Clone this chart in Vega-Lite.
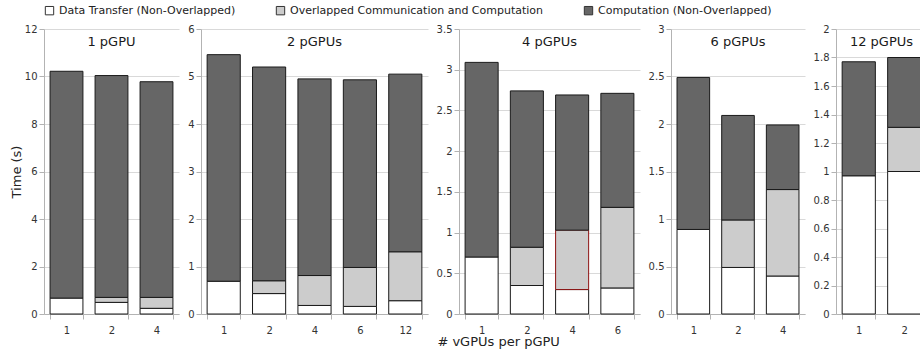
{
  "$schema": "https://vega.github.io/schema/vega-lite/v6.json",
  "background": "white",
  "padding": {"left": 10, "top": 5, "right": 0, "bottom": 0},
  "datasets": {
    "d": [
      {"pgpu": "1 pGPU", "vgpu": 1, "series": "Data Transfer (Non-Overlapped)", "seg": 1, "time": 0.67},
      {"pgpu": "1 pGPU", "vgpu": 1, "series": "Computation (Non-Overlapped)", "seg": 3, "time": 9.55},
      {"pgpu": "1 pGPU", "vgpu": 2, "series": "Data Transfer (Non-Overlapped)", "seg": 1, "time": 0.49},
      {"pgpu": "1 pGPU", "vgpu": 2, "series": "Overlapped Communication and Computation", "seg": 2, "time": 0.21},
      {"pgpu": "1 pGPU", "vgpu": 2, "series": "Computation (Non-Overlapped)", "seg": 3, "time": 9.34},
      {"pgpu": "1 pGPU", "vgpu": 4, "series": "Data Transfer (Non-Overlapped)", "seg": 1, "time": 0.24},
      {"pgpu": "1 pGPU", "vgpu": 4, "series": "Overlapped Communication and Computation", "seg": 2, "time": 0.46},
      {"pgpu": "1 pGPU", "vgpu": 4, "series": "Computation (Non-Overlapped)", "seg": 3, "time": 9.08},

      {"pgpu": "2 pGPUs", "vgpu": 1, "series": "Data Transfer (Non-Overlapped)", "seg": 1, "time": 0.69},
      {"pgpu": "2 pGPUs", "vgpu": 1, "series": "Computation (Non-Overlapped)", "seg": 3, "time": 4.77},
      {"pgpu": "2 pGPUs", "vgpu": 2, "series": "Data Transfer (Non-Overlapped)", "seg": 1, "time": 0.43},
      {"pgpu": "2 pGPUs", "vgpu": 2, "series": "Overlapped Communication and Computation", "seg": 2, "time": 0.27},
      {"pgpu": "2 pGPUs", "vgpu": 2, "series": "Computation (Non-Overlapped)", "seg": 3, "time": 4.50},
      {"pgpu": "2 pGPUs", "vgpu": 4, "series": "Data Transfer (Non-Overlapped)", "seg": 1, "time": 0.18},
      {"pgpu": "2 pGPUs", "vgpu": 4, "series": "Overlapped Communication and Computation", "seg": 2, "time": 0.63},
      {"pgpu": "2 pGPUs", "vgpu": 4, "series": "Computation (Non-Overlapped)", "seg": 3, "time": 4.14},
      {"pgpu": "2 pGPUs", "vgpu": 6, "series": "Data Transfer (Non-Overlapped)", "seg": 1, "time": 0.16},
      {"pgpu": "2 pGPUs", "vgpu": 6, "series": "Overlapped Communication and Computation", "seg": 2, "time": 0.82},
      {"pgpu": "2 pGPUs", "vgpu": 6, "series": "Computation (Non-Overlapped)", "seg": 3, "time": 3.95},
      {"pgpu": "2 pGPUs", "vgpu": 12, "series": "Data Transfer (Non-Overlapped)", "seg": 1, "time": 0.28},
      {"pgpu": "2 pGPUs", "vgpu": 12, "series": "Overlapped Communication and Computation", "seg": 2, "time": 1.03},
      {"pgpu": "2 pGPUs", "vgpu": 12, "series": "Computation (Non-Overlapped)", "seg": 3, "time": 3.74},

      {"pgpu": "4 pGPUs", "vgpu": 1, "series": "Data Transfer (Non-Overlapped)", "seg": 1, "time": 0.70},
      {"pgpu": "4 pGPUs", "vgpu": 1, "series": "Computation (Non-Overlapped)", "seg": 3, "time": 2.39},
      {"pgpu": "4 pGPUs", "vgpu": 2, "series": "Data Transfer (Non-Overlapped)", "seg": 1, "time": 0.35},
      {"pgpu": "4 pGPUs", "vgpu": 2, "series": "Overlapped Communication and Computation", "seg": 2, "time": 0.47},
      {"pgpu": "4 pGPUs", "vgpu": 2, "series": "Computation (Non-Overlapped)", "seg": 3, "time": 1.92},
      {"pgpu": "4 pGPUs", "vgpu": 4, "series": "Data Transfer (Non-Overlapped)", "seg": 1, "time": 0.30},
      {"pgpu": "4 pGPUs", "vgpu": 4, "series": "Overlapped Communication and Computation", "seg": 2, "time": 0.73},
      {"pgpu": "4 pGPUs", "vgpu": 4, "series": "Computation (Non-Overlapped)", "seg": 3, "time": 1.66},
      {"pgpu": "4 pGPUs", "vgpu": 6, "series": "Data Transfer (Non-Overlapped)", "seg": 1, "time": 0.32},
      {"pgpu": "4 pGPUs", "vgpu": 6, "series": "Overlapped Communication and Computation", "seg": 2, "time": 0.99},
      {"pgpu": "4 pGPUs", "vgpu": 6, "series": "Computation (Non-Overlapped)", "seg": 3, "time": 1.40},

      {"pgpu": "6 pGPUs", "vgpu": 1, "series": "Data Transfer (Non-Overlapped)", "seg": 1, "time": 0.89},
      {"pgpu": "6 pGPUs", "vgpu": 1, "series": "Computation (Non-Overlapped)", "seg": 3, "time": 1.60},
      {"pgpu": "6 pGPUs", "vgpu": 2, "series": "Data Transfer (Non-Overlapped)", "seg": 1, "time": 0.49},
      {"pgpu": "6 pGPUs", "vgpu": 2, "series": "Overlapped Communication and Computation", "seg": 2, "time": 0.50},
      {"pgpu": "6 pGPUs", "vgpu": 2, "series": "Computation (Non-Overlapped)", "seg": 3, "time": 1.10},
      {"pgpu": "6 pGPUs", "vgpu": 4, "series": "Data Transfer (Non-Overlapped)", "seg": 1, "time": 0.40},
      {"pgpu": "6 pGPUs", "vgpu": 4, "series": "Overlapped Communication and Computation", "seg": 2, "time": 0.91},
      {"pgpu": "6 pGPUs", "vgpu": 4, "series": "Computation (Non-Overlapped)", "seg": 3, "time": 0.68},

      {"pgpu": "12 pGPUs", "vgpu": 1, "series": "Data Transfer (Non-Overlapped)", "seg": 1, "time": 0.97},
      {"pgpu": "12 pGPUs", "vgpu": 1, "series": "Computation (Non-Overlapped)", "seg": 3, "time": 0.80},
      {"pgpu": "12 pGPUs", "vgpu": 2, "series": "Data Transfer (Non-Overlapped)", "seg": 1, "time": 1.00},
      {"pgpu": "12 pGPUs", "vgpu": 2, "series": "Overlapped Communication and Computation", "seg": 2, "time": 0.31},
      {"pgpu": "12 pGPUs", "vgpu": 2, "series": "Computation (Non-Overlapped)", "seg": 3, "time": 0.49}
    ]
  },
  "title": {"text": "# vGPUs per pGPU", "orient": "bottom", "anchor": "middle", "fontSize": 13, "fontWeight": "normal", "color": "#222222", "offset": 1, "dx": 30},
  "spacing": 8,
  "resolve": {"scale": {"x": "independent", "y": "independent"}},
  "hconcat": [
    {
      "width": 135, "height": 285,
      "title": {"text": "1 pGPU"},
      "data": {"name": "d"},
      "transform": [{"filter": "datum.pgpu === '1 pGPU'"}],
      "mark": {"type": "bar", "strokeWidth": 1},
      "encoding": {
        "x": {"field": "vgpu", "type": "ordinal", "title": null, "scale": {"paddingInner": 0.27, "paddingOuter": 0.135}},
        "y": {"field": "time", "type": "quantitative", "stack": "zero", "title": "Time (s)", "scale": {"domain": [0, 12], "nice": false}, "axis": {"values": [0, 2, 4, 6, 8, 10, 12], "format": "~g"}},
        "color": {"field": "series", "type": "nominal", "scale": {"domain": ["Data Transfer (Non-Overlapped)", "Overlapped Communication and Computation", "Computation (Non-Overlapped)"], "range": ["#ffffff", "#cccccc", "#666666"]}, "title": null},
        "order": {"field": "seg", "type": "quantitative", "sort": "ascending"},
        "stroke": {"value": "#1a1a1a"}
      }
    },
    {
      "width": 227, "height": 285,
      "title": {"text": "2 pGPUs"},
      "data": {"name": "d"},
      "transform": [{"filter": "datum.pgpu === '2 pGPUs'"}],
      "mark": {"type": "bar", "strokeWidth": 1},
      "encoding": {
        "x": {"field": "vgpu", "type": "ordinal", "title": null, "scale": {"paddingInner": 0.27, "paddingOuter": 0.135}},
        "y": {"field": "time", "type": "quantitative", "stack": "zero", "title": null, "scale": {"domain": [0, 6], "nice": false}, "axis": {"values": [0, 1, 2, 3, 4, 5, 6], "format": "~g"}},
        "color": {"field": "series", "type": "nominal", "scale": {"domain": ["Data Transfer (Non-Overlapped)", "Overlapped Communication and Computation", "Computation (Non-Overlapped)"], "range": ["#ffffff", "#cccccc", "#666666"]}, "title": null},
        "order": {"field": "seg", "type": "quantitative", "sort": "ascending"},
        "stroke": {"value": "#1a1a1a"}
      }
    },
    {
      "width": 181, "height": 285,
      "title": {"text": "4 pGPUs"},
      "data": {"name": "d"},
      "transform": [{"filter": "datum.pgpu === '4 pGPUs'"}],
      "mark": {"type": "bar", "strokeWidth": 1},
      "encoding": {
        "x": {"field": "vgpu", "type": "ordinal", "title": null, "scale": {"paddingInner": 0.27, "paddingOuter": 0.135}},
        "y": {"field": "time", "type": "quantitative", "stack": "zero", "title": null, "scale": {"domain": [0, 3.5], "nice": false}, "axis": {"values": [0, 0.5, 1, 1.5, 2, 2.5, 3, 3.5], "format": "~g"}},
        "color": {"field": "series", "type": "nominal", "scale": {"domain": ["Data Transfer (Non-Overlapped)", "Overlapped Communication and Computation", "Computation (Non-Overlapped)"], "range": ["#ffffff", "#cccccc", "#666666"]}, "title": null},
        "order": {"field": "seg", "type": "quantitative", "sort": "ascending"},
        "stroke": {"condition": {"test": "datum.vgpu === 4 && datum.seg === 2", "value": "#8b1010"}, "value": "#1a1a1a"}
      }
    },
    {
      "width": 134, "height": 285,
      "title": {"text": "6 pGPUs"},
      "data": {"name": "d"},
      "transform": [{"filter": "datum.pgpu === '6 pGPUs'"}],
      "mark": {"type": "bar", "strokeWidth": 1},
      "encoding": {
        "x": {"field": "vgpu", "type": "ordinal", "title": null, "scale": {"paddingInner": 0.27, "paddingOuter": 0.135}},
        "y": {"field": "time", "type": "quantitative", "stack": "zero", "title": null, "scale": {"domain": [0, 3], "nice": false}, "axis": {"values": [0, 0.5, 1, 1.5, 2, 2.5, 3], "format": "~g"}},
        "color": {"field": "series", "type": "nominal", "scale": {"domain": ["Data Transfer (Non-Overlapped)", "Overlapped Communication and Computation", "Computation (Non-Overlapped)"], "range": ["#ffffff", "#cccccc", "#666666"]}, "title": null},
        "order": {"field": "seg", "type": "quantitative", "sort": "ascending"},
        "stroke": {"value": "#1a1a1a"}
      }
    },
    {
      "width": 91, "height": 285,
      "title": {"text": "12 pGPUs"},
      "data": {"name": "d"},
      "transform": [{"filter": "datum.pgpu === '12 pGPUs'"}],
      "mark": {"type": "bar", "strokeWidth": 1},
      "encoding": {
        "x": {"field": "vgpu", "type": "ordinal", "title": null, "scale": {"paddingInner": 0.27, "paddingOuter": 0.135}},
        "y": {"field": "time", "type": "quantitative", "stack": "zero", "title": null, "scale": {"domain": [0, 2], "nice": false}, "axis": {"values": [0, 0.2, 0.4, 0.6, 0.8, 1, 1.2, 1.4, 1.6, 1.8, 2], "format": "~g"}},
        "color": {"field": "series", "type": "nominal", "scale": {"domain": ["Data Transfer (Non-Overlapped)", "Overlapped Communication and Computation", "Computation (Non-Overlapped)"], "range": ["#ffffff", "#cccccc", "#666666"]}, "title": null},
        "order": {"field": "seg", "type": "quantitative", "sort": "ascending"},
        "stroke": {"value": "#1a1a1a"}
      }
    }
  ],
  "config": {
    "font": "DejaVu Sans",
    "view": {"stroke": null},
    "title": {"fontSize": 13, "fontWeight": "normal", "color": "#1a1a1a", "offset": -25, "anchor": "middle"},
    "axis": {
      "labelFont": "DejaVu Sans", "labelFontSize": 10, "labelColor": "#333333",
      "titleFont": "DejaVu Sans", "titleFontSize": 13, "titleFontWeight": "normal", "titleColor": "#222222",
      "domainColor": "#b3b3b3", "tickColor": "#b3b3b3", "tickSize": 5,
      "gridColor": "#d9d9d9"
    },
    "axisX": {"grid": false, "labelAngle": 0, "tickBand": "extent", "labelPadding": 6},
    "axisY": {"grid": true, "labelPadding": 2, "titlePadding": 1},
    "legend": {
      "orient": "top", "direction": "horizontal", "symbolType": "square", "symbolSize": 70,
      "symbolStrokeColor": "#333333", "symbolStrokeWidth": 1, "labelFontSize": 11, "labelColor": "#222222",
      "labelFont": "DejaVu Sans", "labelLimit": 0, "columnPadding": 38, "labelOffset": 4, "offset": 7, "padding": 0
    }
  }
}
